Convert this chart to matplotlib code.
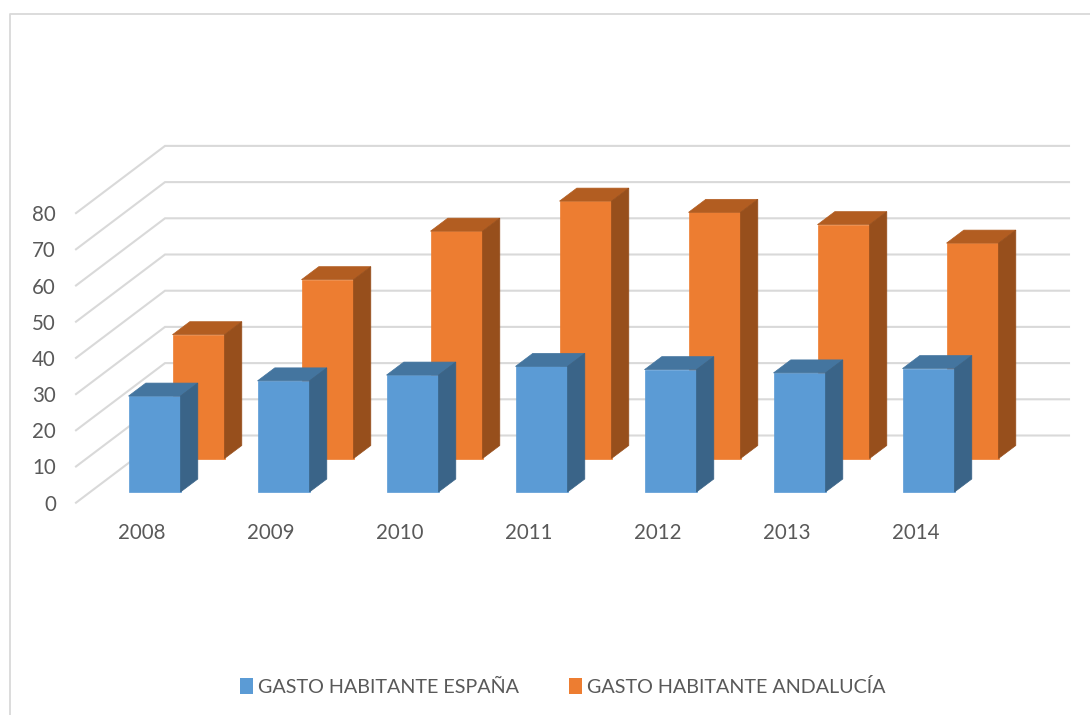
import matplotlib
matplotlib.use('Agg')
import matplotlib.pyplot as plt
from matplotlib.patches import Polygon, Patch

years = ['2008', '2009', '2010', '2011', '2012', '2013', '2014']
espana = [26.5, 30.7, 32.3, 34.7, 33.8, 32.9, 34.1]
andalucia = [34.2, 49.4, 62.8, 71.1, 68.0, 64.6, 59.5]
yticks = [0, 10, 20, 30, 40, 50, 60, 70, 80]

# the picture is an Excel 3D column chart, so project by hand onto a pixel-sized axes
PX_PER_UNIT = 3.62
FRONT_ZERO = (76, 502.7)
BACK_ZERO = (165, 435.5)
BAR_W = 52
STEP = 129
BAR_DX = 17.3
BAR_DY = 13

GRID = '#d9d9d9'
TEXT = '#595959'

plt.rcParams['font.family'] = ['Lato', 'DejaVu Sans']

fig = plt.figure(figsize=(10.9, 7.15), dpi=100)
ax = fig.add_axes([0, 0, 1, 1])
ax.set_xlim(0, 1090)
ax.set_ylim(715, 0)
ax.axis('off')

# chart frame
ax.plot([10, 10, 1090], [715, 14, 14], color=GRID, lw=1.3, zorder=1)

# walls
for v in yticks:
    dy = v * PX_PER_UNIT
    ax.plot([FRONT_ZERO[0], BACK_ZERO[0], 1069],
            [FRONT_ZERO[1] - dy, BACK_ZERO[1] - dy, BACK_ZERO[1] - dy],
            color=GRID, lw=1.5, zorder=2, solid_joinstyle='miter')
    ax.text(56, FRONT_ZERO[1] - dy + 2, str(v), ha='right', va='center',
            fontsize=14.8, color=TEXT)


def bar3d(x0, base, value, front, top, side, z):
    h = value * PX_PER_UNIT
    x1 = x0 + BAR_W
    y1 = base - h
    ax.add_patch(Polygon([(x0, base), (x1, base), (x1, y1), (x0, y1)],
                         fc=front, ec=front, lw=0.5, zorder=z))
    ax.add_patch(Polygon([(x0, y1), (x1, y1), (x1 + BAR_DX, y1 - BAR_DY), (x0 + BAR_DX, y1 - BAR_DY)],
                         fc=top, ec=top, lw=0.5, zorder=z))
    ax.add_patch(Polygon([(x1, base), (x1 + BAR_DX, base - BAR_DY), (x1 + BAR_DX, y1 - BAR_DY), (x1, y1)],
                         fc=side, ec=side, lw=0.5, zorder=z))


for i, year in enumerate(years):
    bar3d(172.5 + i * STEP, 458.5, andalucia[i], '#ed7d31', '#b25d21', '#974f1c', 3)
    bar3d(128.5 + i * STEP, 492, espana[i], '#5b9bd5', '#44759f', '#3a6488', 4)
    ax.text(141.5 + i * STEP, 533, year, ha='center', va='center', fontsize=14.8, color=TEXT)

handles = [Patch(fc='#5b9bd5', ec='none', label='GASTO HABITANTE ESPAÑA'),
           Patch(fc='#ed7d31', ec='none', label='GASTO HABITANTE ANDALUCÍA')]
ax.legend(handles=handles, loc='center', bbox_to_anchor=(562.5, 687), bbox_transform=ax.transData,
          ncol=2, frameon=False, fontsize=14.2, labelcolor=TEXT, handlelength=0.66,
          handleheight=0.9, handletextpad=0.25, columnspacing=2.55)

fig.savefig('out.png', dpi=100)
